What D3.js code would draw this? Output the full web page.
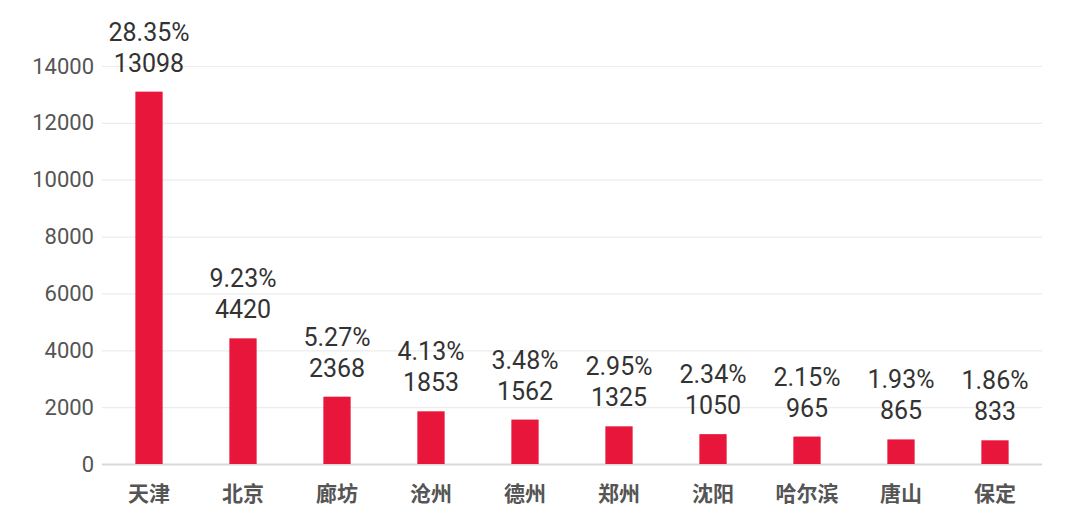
<!DOCTYPE html>
<html>
<head>
<meta charset="utf-8">
<script src="https://cdn.jsdelivr.net/npm/d3@7"></script>
<style>
  body { margin: 0; background: #fff; }
  svg { display: block; font-family: Roboto, "Noto Sans CJK SC", sans-serif; }
</style>
</head>
<body>
<svg id="chart" width="1080" height="523"></svg>
<script>
const cities = ["天津", "北京", "廊坊", "沧州", "德州", "郑州", "沈阳", "哈尔滨", "唐山", "保定"];
const values = [13098, 4420, 2368, 1853, 1562, 1325, 1050, 965, 865, 833];
const shares = ["28.35%", "9.23%", "5.27%", "4.13%", "3.48%", "2.95%", "2.34%", "2.15%", "1.93%", "1.86%"];
const yTicks = [0, 2000, 4000, 6000, 8000, 10000, 12000, 14000];

const margin = { top: 66, right: 38, bottom: 59, left: 102 };
const width = 1080 - margin.left - margin.right;
const height = 523 - margin.top - margin.bottom;

const svg = d3.select("#chart");
const g = svg.append("g").attr("transform", "translate(" + margin.left + "," + margin.top + ")");

const x = d3.scaleBand().domain(cities).range([0, width]).paddingInner(0.71).paddingOuter(0.355);
const y = d3.scaleLinear().domain([0, 14000]).range([height, 0]);

// grid + y labels
const yAxis = g.append("g")
  .call(d3.axisLeft(y).tickValues(yTicks).tickSize(-width).tickPadding(8).tickFormat(d3.format("d")));
yAxis.select(".domain").remove();
yAxis.selectAll(".tick line").attr("stroke", d => d === 0 ? "#d9d9d9" : "#ececec").attr("stroke-width", d => d === 0 ? 2 : 1.2);
yAxis.selectAll(".tick text").attr("fill", "#555").style("font-size", "22px").style("font-family", "Roboto, sans-serif");

// x labels
const xAxis = g.append("g")
  .attr("transform", "translate(0," + height + ")")
  .call(d3.axisBottom(x).tickSize(0).tickPadding(22));
xAxis.select(".domain").remove();
xAxis.selectAll(".tick text")
  .attr("fill", "#555")
  .style("font-size", "21px")
  .style("font-weight", "bold")
  .style("font-family", "'Noto Sans CJK SC', sans-serif");

// bars
g.selectAll(".bar")
  .data(values)
  .enter().append("rect")
  .attr("class", "bar")
  .attr("x", (d, i) => x(cities[i]))
  .attr("y", d => y(d))
  .attr("width", x.bandwidth())
  .attr("height", d => height - y(d))
  .attr("fill", "#e8163a");

// value labels
const labels = g.selectAll(".lbl")
  .data(values)
  .enter().append("text")
  .attr("class", "lbl")
  .attr("text-anchor", "middle")
  .attr("fill", "#333")
  .style("font-size", "25px")
  .attr("x", (d, i) => x(cities[i]) + x.bandwidth() / 2)
  .attr("y", d => y(d) - 20);

labels.append("tspan")
  .attr("x", (d, i) => x(cities[i]) + x.bandwidth() / 2)
  .attr("dy", -31)
  .text((d, i) => shares[i]);
labels.append("tspan")
  .attr("x", (d, i) => x(cities[i]) + x.bandwidth() / 2)
  .attr("dy", 31)
  .text(d => d);
</script>
</body>
</html>
